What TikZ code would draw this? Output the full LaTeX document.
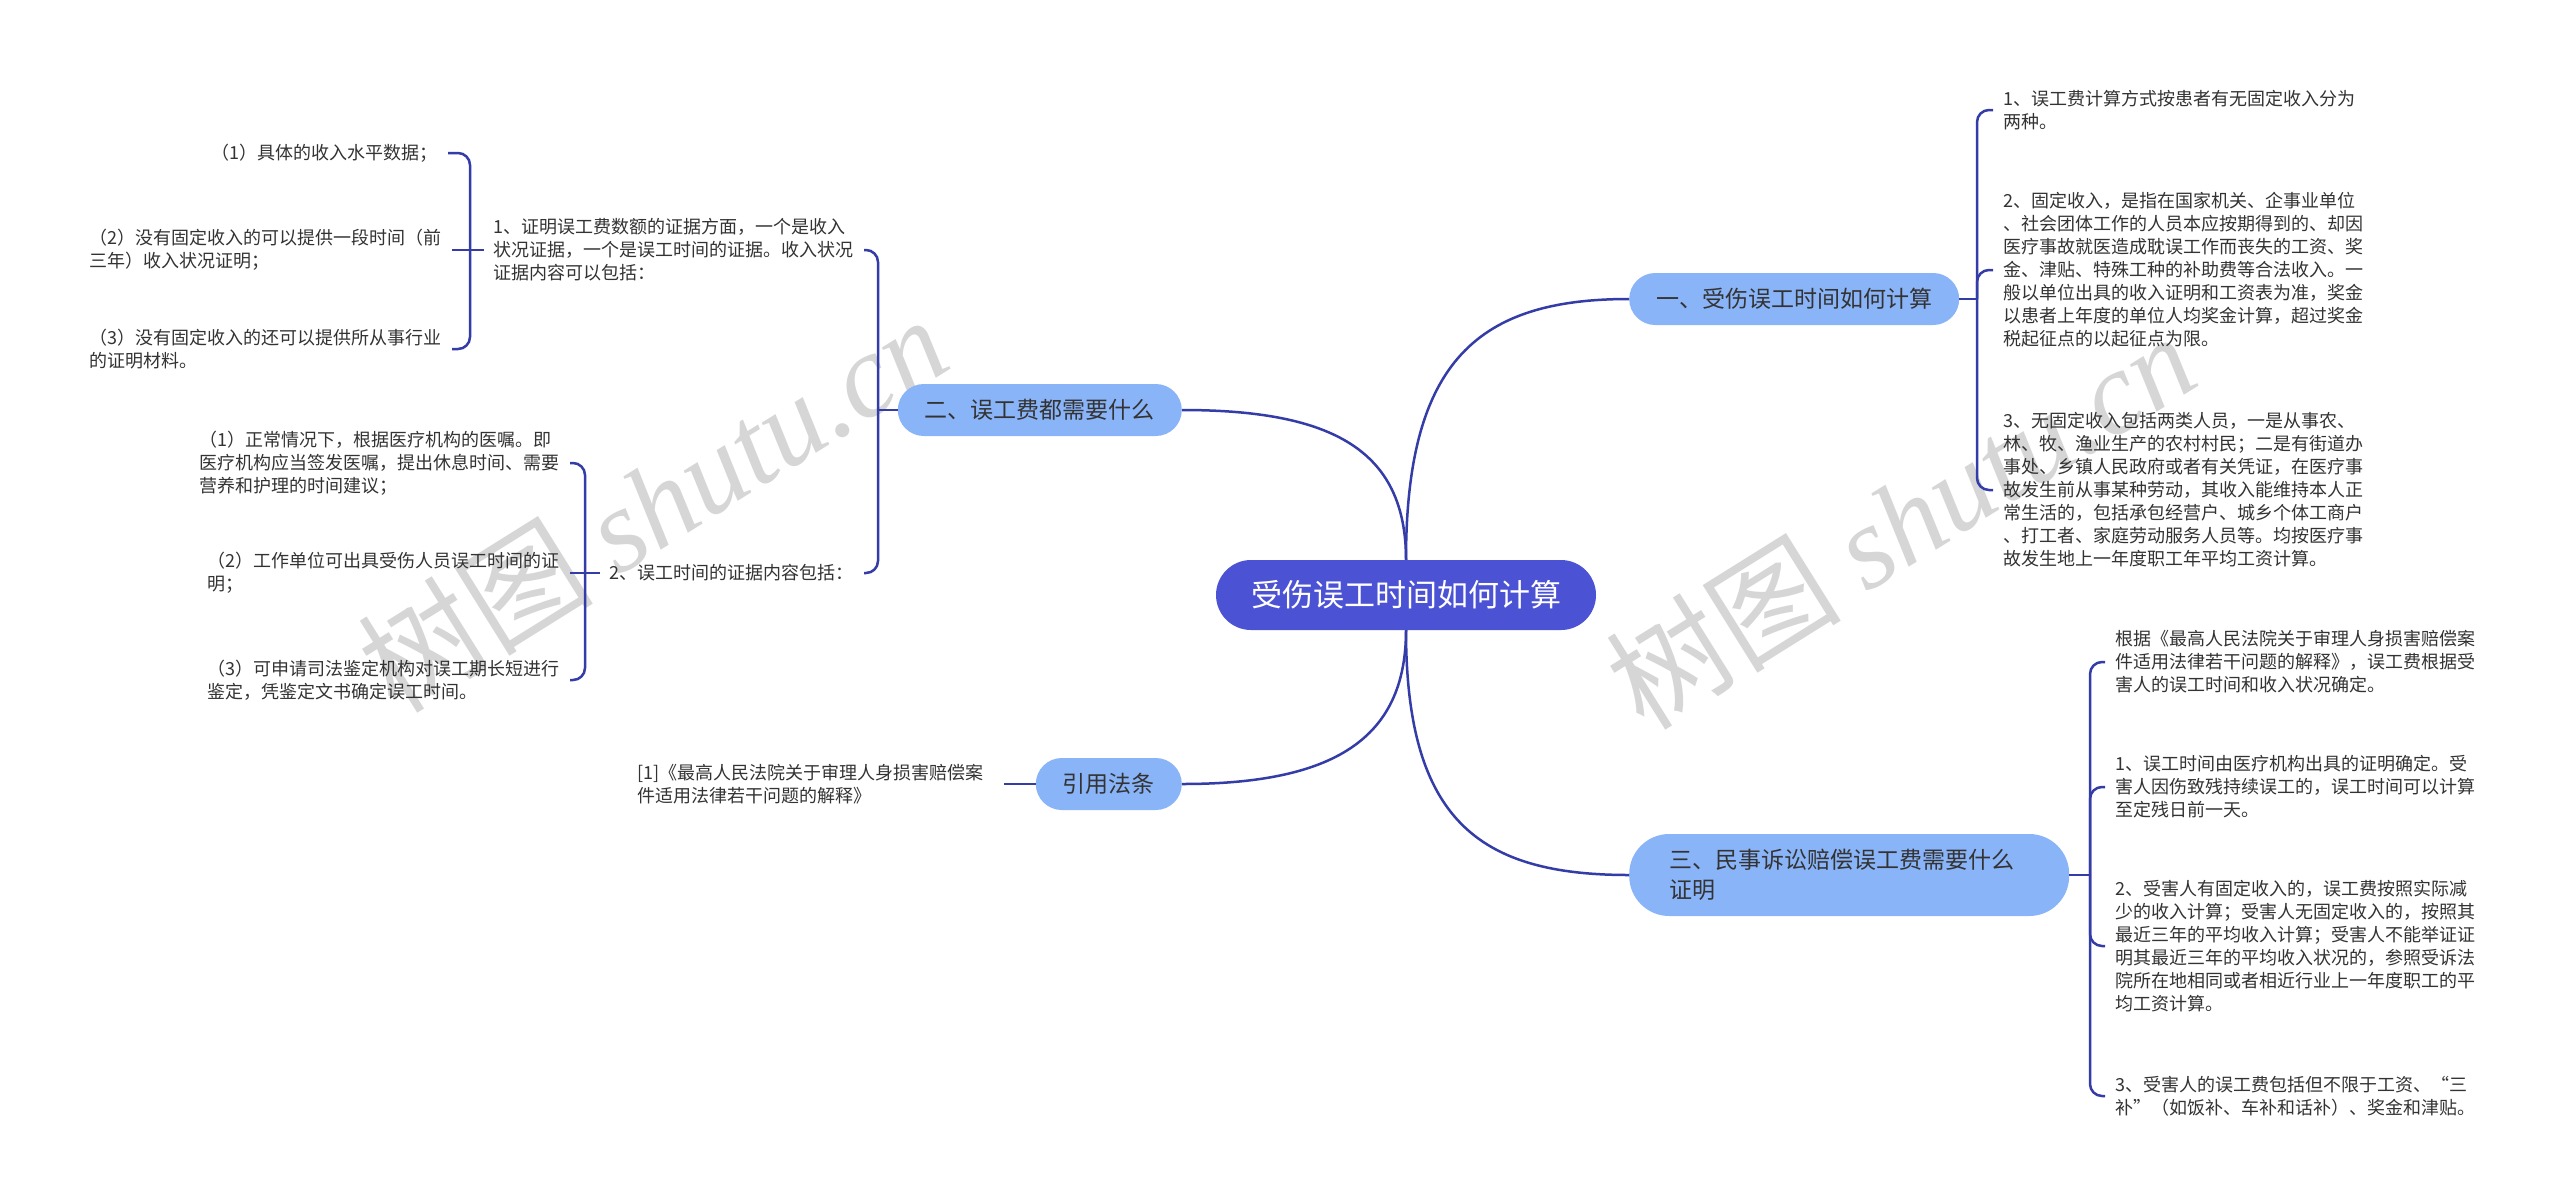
\documentclass[tikz,border=0pt]{standalone}
\usepackage{fontspec}
\setmainfont{Noto Sans CJK SC}
\newfontfamily\marklatin{Liberation Serif}
\definecolor{rootblue}{RGB}{75,82,212}
\definecolor{topicblue}{RGB}{138,180,248}
\definecolor{linkblue}{RGB}{52,60,168}
\definecolor{textgray}{RGB}{51,51,51}

\begin{document}
\begin{tikzpicture}[x=1pt, y=-1pt,
    root/.style = {fill=rootblue, text=white, rounded corners=35pt, minimum height=70pt, inner xsep=35pt, font=\fontsize{31pt}{38pt}\selectfont},
    topic/.style = {fill=topicblue, text=textgray, rounded corners=26pt, minimum height=52pt, inner xsep=27pt, font=\fontsize{23pt}{30pt}\selectfont},
    leaf/.style = {text=textgray, align=left, inner xsep=10pt, inner ysep=0pt, font=\fontsize{18pt}{23pt}\selectfont},
    link/.style = {draw=linkblue, line width=2.5pt},
    curl/.style = {link, rounded corners=12pt},
    wmark/.style = {text=gray!32, inner sep=0pt, rotate=32, font=\fontsize{118pt}{118pt}\selectfont}]
        \fill[white] (0,0) rectangle (2560,1203);
        \useasboundingbox (0,0) rectangle (2560,1203);
        \node[wmark] (w1) at (652,503) {树图 {\marklatin\itshape shutu.cn}};
        \node[wmark] (w2) at (1900,520) {树图 {\marklatin\itshape shutu.cn}};
        \node[root] (0) at (1406,595) {受伤误工时间如何计算};
        \node[topic, anchor=west] (1) at (1629,299) {一、受伤误工时间如何计算};
        \node[topic, anchor=east] (2) at (1182,410) {二、误工费都需要什么};
        \node[topic, anchor=west, align=left, text width=360pt, inner xsep=40pt, rounded corners=40pt, minimum height=82pt] (3) at (1629,875) {三、民事诉讼赔偿误工费需要什么\\证明};
        \node[topic, anchor=east] (4) at (1182,784) {引用法条};
        \node[leaf, anchor=west] (5) at (1993,110) {1、误工费计算方式按患者有无固定收入分为\\两种。};
        \node[leaf, anchor=west] (6) at (1993,270) {2、固定收入，是指在国家机关、企事业单位\\、社会团体工作的人员本应按期得到的、却因\\医疗事故就医造成耽误工作而丧失的工资、奖\\金、津贴、特殊工种的补助费等合法收入。一\\般以单位出具的收入证明和工资表为准，奖金\\以患者上年度的单位人均奖金计算，超过奖金\\税起征点的以起征点为限。};
        \node[leaf, anchor=west] (7) at (1993,490) {3、无固定收入包括两类人员，一是从事农、\\林、牧、渔业生产的农村村民；二是有街道办\\事处、乡镇人民政府或者有关凭证，在医疗事\\故发生前从事某种劳动，其收入能维持本人正\\常生活的，包括承包经营户、城乡个体工商户\\、打工者、家庭劳动服务人员等。均按医疗事\\故发生地上一年度职工年平均工资计算。};
        \node[leaf, anchor=west] (8) at (2105,662) {根据《最高人民法院关于审理人身损害赔偿案\\件适用法律若干问题的解释》，误工费根据受\\害人的误工时间和收入状况确定。};
        \node[leaf, anchor=west] (9) at (2105,787) {1、误工时间由医疗机构出具的证明确定。受\\害人因伤致残持续误工的，误工时间可以计算\\至定残日前一天。};
        \node[leaf, anchor=west] (10) at (2105,946) {2、受害人有固定收入的，误工费按照实际减\\少的收入计算；受害人无固定收入的，按照其\\最近三年的平均收入计算；受害人不能举证证\\明其最近三年的平均收入状况的，参照受诉法\\院所在地相同或者相近行业上一年度职工的平\\均工资计算。};
        \node[leaf, anchor=west] (11) at (2105,1096) {3、受害人的误工费包括但不限于工资、“三\\补”（如饭补、车补和话补）、奖金和津贴。};
        \node[leaf, anchor=east] (12) at (864,250) {1、证明误工费数额的证据方面，一个是收入\\状况证据，一个是误工时间的证据。收入状况\\证据内容可以包括：};
        \node[leaf, anchor=east] (13) at (864,573) {2、误工时间的证据内容包括：};
        \node[leaf, anchor=east] (14) at (448,153) {（1）具体的收入水平数据；};
        \node[leaf, anchor=east] (15) at (452,250) {（2）没有固定收入的可以提供一段时间（前\\三年）收入状况证明；};
        \node[leaf, anchor=east] (16) at (452,349) {（3）没有固定收入的还可以提供所从事行业\\的证明材料。};
        \node[leaf, anchor=east] (17) at (570,463) {（1）正常情况下，根据医疗机构的医嘱。即\\医疗机构应当签发医嘱，提出休息时间、需要\\营养和护理的时间建议；};
        \node[leaf, anchor=east] (18) at (570,573) {（2）工作单位可出具受伤人员误工时间的证\\明；};
        \node[leaf, anchor=east] (19) at (570,680) {（3）可申请司法鉴定机构对误工期长短进行\\鉴定，凭鉴定文书确定误工时间。};
        \node[leaf, anchor=east, inner xsep=20pt] (20) at (1004,784) {[1]《最高人民法院关于审理人身损害赔偿案\\件适用法律若干问题的解释》};
        \coordinate (j1) at (1977,299);
        \coordinate (j2) at (878,410);
        \coordinate (j3) at (2090,875);
        \coordinate (j5) at (470,250);
        \coordinate (j6) at (585,573);
        \draw[link] (0.north) .. controls +(0,-200) and +(-150,0) .. (1.west);
        \draw[link] (2.east) .. controls +(150,0) and +(0,-110) .. (0.north);
        \draw[link] (0.south) .. controls +(0,190) and +(-150,0) .. (3.west);
        \draw[link] (4.east) .. controls +(150,0) and +(0,110) .. (0.south);
        \draw[link] (1.east) -- (j1);
        \draw[curl] (j1) |- (5.west);
        \draw[curl] (j1) |- (6.west);
        \draw[curl] (j1) |- (7.west);
        \draw[link] (2.west) -- (j2);
        \draw[curl] (j2) |- (12.east);
        \draw[curl] (j2) |- (13.east);
        \draw[link] (3.east) -- (j3);
        \draw[curl] (j3) |- (8.west);
        \draw[curl] (j3) |- (9.west);
        \draw[curl] (j3) |- (10.west);
        \draw[curl] (j3) |- (11.west);
        \draw[link] (12.west) -- (15.east);
        \draw[curl] (j5) |- (14.east);
        \draw[curl] (j5) |- (16.east);
        \draw[link] (13.west) -- (18.east);
        \draw[curl] (j6) |- (17.east);
        \draw[curl] (j6) |- (19.east);
        \draw[link] (4.west) -- (20.east);
    \end{tikzpicture}
\end{document}
